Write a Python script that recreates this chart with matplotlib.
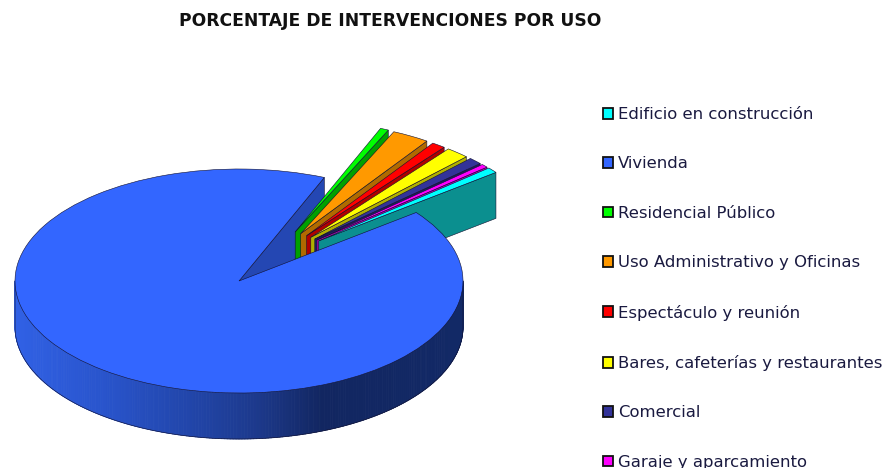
import numpy as np
import matplotlib
matplotlib.use("Agg")
import matplotlib.pyplot as plt
from matplotlib.collections import PolyCollection
from matplotlib.patches import Patch, Polygon

categories = ["Edificio en construcción", "Vivienda", "Residencial Público",
              "Uso Administrativo y Oficinas", "Espectáculo y reunión",
              "Bares, cafeterías y restaurantes", "Comercial", "Garaje y aparcamiento"]
values = [0.8, 91.7, 0.6, 2.7, 1.0, 1.7, 1.0, 0.5]
top_colors = ["#00ffff", "#3366ff", "#00ff00", "#ff9900", "#ff0000", "#ffff00", "#333399", "#ff00ff"]
wall_colors = ["#0b8f8f", "#2447b3", "#00a000", "#b06a00", "#b00000", "#b0b000", "#1d1d60", "#b000b0"]

W, H = 885, 468
CX, CY, RX, RY, DEPTH = 239, 281, 224, 112, 46
depth = DEPTH / RY
EDGE = "#101030"

fig = plt.figure(figsize=(W / 100, H / 100), dpi=100, facecolor="white")
ax = fig.add_axes([0, 0, 1, 1])
wedges, _ = ax.pie(values, colors=top_colors, startangle=40.6, counterclock=False, radius=1,
                   wedgeprops=dict(edgecolor=EDGE, linewidth=0.4))
ax.set_aspect("auto")
ax.set_xlim(-CX / RX, (W - CX) / RX)
ax.set_ylim((CY - H) / RY, CY / RY)


def radial_wall(center, angle, color, z):
    a = np.deg2rad(angle)
    x0, y0 = center
    x1, y1 = x0 + np.cos(a), y0 + np.sin(a)
    ax.add_patch(Polygon([(x0, y0), (x1, y1), (x1, y1 - depth), (x0, y0 - depth)], closed=True,
                         facecolor=color, edgecolor=EDGE, linewidth=0.4, zorder=z))


main = 1
small = [2, 3, 4, 5, 6, 7, 0]  # back to front
gap_mid = 52.5
z = 2
radial_wall((0, 0), wedges[main].theta1, wall_colors[main], 1)
for i in small:
    w = wedges[i]
    mid = ((w.theta1 + w.theta2) / 2) % 360
    direction = np.deg2rad(gap_mid + 0.55 * (mid - gap_mid))
    c = (0.505 * np.cos(direction), 0.505 * np.sin(direction))
    radial_wall(c, w.theta1, wall_colors[i], z)
    w.set_center(c)
    w.set_zorder(z + 0.5)
    z += 1

# main slice rim, shaded left to right
th = np.deg2rad(np.linspace(180, 360, 241))
stops_x = [-1.0, -0.6, -0.2, 0.1, 0.37, 1.0]
stops_c = np.array([[0.19, 0.38, 0.90], [0.16, 0.33, 0.80], [0.13, 0.27, 0.66],
                    [0.11, 0.22, 0.54], [0.07, 0.15, 0.38], [0.07, 0.16, 0.40]])
polys, cols = [], []
for a, b in zip(th[:-1], th[1:]):
    polys.append([(np.cos(a), np.sin(a)), (np.cos(b), np.sin(b)),
                  (np.cos(b), np.sin(b) - depth), (np.cos(a), np.sin(a) - depth)])
    xm = (np.cos(a) + np.cos(b)) / 2
    cols.append([np.interp(xm, stops_x, stops_c[:, k]) for k in range(3)])
ax.add_collection(PolyCollection(polys, facecolors=cols, edgecolors=cols, linewidths=0.6, zorder=20))
ax.plot(np.r_[-1, np.cos(th), 1], np.r_[0, np.sin(th) - depth, 0], color=EDGE, lw=0.4, zorder=21)
wedges[main].set_zorder(22)

ax.text((390 - CX) / RX, (CY - 21) / RY, "PORCENTAJE DE INTERVENCIONES POR USO",
        ha="center", va="center", fontsize=12.3, fontweight="bold", family="DejaVu Sans", color="#111111")

handles = [Patch(facecolor=c, edgecolor="#111111", linewidth=1.3) for c in top_colors]
fig.legend(handles, categories, loc="upper left", bbox_to_anchor=(603 / W, 1 - 107 / H), frameon=False,
           prop=dict(family="DejaVu Sans", size=11.85), labelcolor="#1a1a40", handlelength=0.62, handleheight=0.62,
           handletextpad=0.3, labelspacing=2.09, borderaxespad=0, borderpad=0)

fig.savefig("out.png", dpi=100, facecolor="white")
